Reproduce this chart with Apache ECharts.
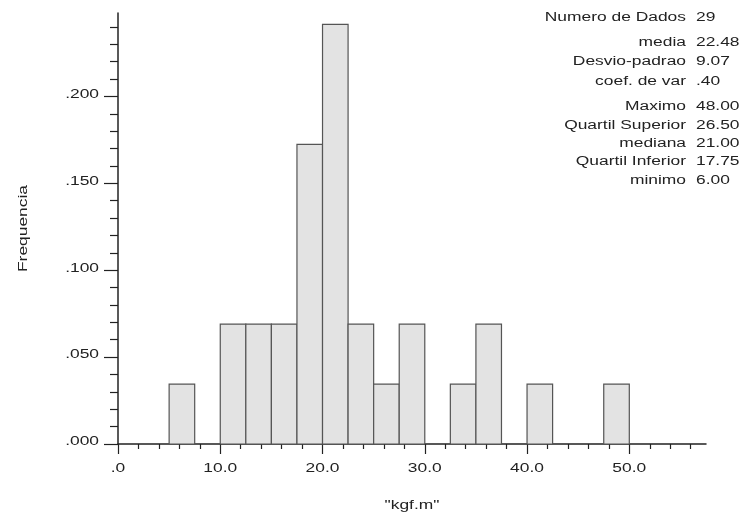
<!DOCTYPE html>
<html>
<head>
<meta charset="utf-8">
<script src="https://cdn.jsdelivr.net/npm/echarts@6/dist/echarts.min.js"></script>
<style>html,body{margin:0;padding:0;background:#fff;}#c{width:741px;height:519px;}</style>
</head>
<body>
<div id="c"></div>
<script>
// Histogram bins (start, end) and relative frequencies
var binStart = [5, 10, 12.5, 15, 17.5, 20, 22.5, 25, 27.5, 32.5, 35, 40, 47.5];
var binEnd   = [7.5, 12.5, 15, 17.5, 20, 22.5, 25, 27.5, 30, 35, 37.5, 42.5, 50];
var freq     = [0.0345, 0.069, 0.069, 0.069, 0.1724, 0.2414, 0.069, 0.0345, 0.069, 0.0345, 0.069, 0.0345, 0.0345];

// Axis ticks
var xMajorTicks = [0, 10, 20, 30, 40, 50];
var xTickLabels = ['.0', '10.0', '20.0', '30.0', '40.0', '50.0'];
var xMinorTicks = [2, 4, 6, 8, 12, 14, 16, 18, 22, 24, 26, 28, 32, 34, 36, 38, 42, 44, 46, 48, 52, 54, 56];
var yMajorTicks = [0, 0.05, 0.1, 0.15, 0.2];
var yTickLabels = ['.000', '.050', '.100', '.150', '.200'];
var yMinorTicks = [0.01, 0.02, 0.03, 0.04, 0.06, 0.07, 0.08, 0.09, 0.11, 0.12, 0.13, 0.14, 0.16, 0.17, 0.18, 0.19, 0.21, 0.22, 0.23, 0.24];
var xName = '"kgf.m"';
var yName = 'Frequencia';

// Summary statistics
var statNames  = ['Numero de Dados', 'media', 'Desvio-padrao', 'coef. de var', 'Maximo', 'Quartil Superior', 'mediana', 'Quartil Inferior', 'minimo'];
var statValues = ['29', '22.48', '9.07', '.40', '48.00', '26.50', '21.00', '17.75', '6.00'];
var statY      = [18, 43, 62, 82, 107, 126, 144, 162, 181];

var FONT = '"Liberation Sans", Arial, Helvetica, sans-serif';
var FS = 12;
var SX = 1.45;   // wide-set lettering of the original
var COLOR = '#222';
var chart = echarts.init(document.getElementById('c'), null, {renderer: 'canvas'});

var data = binStart.map(function (s, i) { return [s, binEnd[i], freq[i]]; });
var xMin = 0, xMax = 57.5, yMin = 0, yMax = 0.248;

function txt(x, y, text, align, extra) {
  var o = {type: 'text', x: x, y: y, scaleX: SX, scaleY: 1,
    style: {text: text, font: FS + 'px ' + FONT, fill: COLOR, textAlign: align, textVerticalAlign: 'middle'}};
  if (extra) for (var k in extra) o[k] = extra[k];
  return o;
}

chart.setOption({
  animation: false,
  grid: {left: 118, right: 35, top: 13, bottom: 75},
  xAxis: [{
    type: 'value', min: xMin, max: xMax,
    axisLine: {show: true, lineStyle: {color: COLOR, width: 1.5}},
    axisTick: {show: true, length: 10, lineStyle: {color: COLOR, width: 1.2}, customValues: xMajorTicks},
    axisLabel: {show: false},
    splitLine: {show: false}
  }, {
    type: 'value', min: xMin, max: xMax, position: 'bottom',
    axisLine: {show: false},
    axisTick: {show: true, length: 5, lineStyle: {color: COLOR, width: 1.2}, customValues: xMinorTicks},
    axisLabel: {show: false},
    splitLine: {show: false}
  }],
  yAxis: [{
    type: 'value', min: yMin, max: yMax,
    axisLine: {show: true, lineStyle: {color: COLOR, width: 1.5}},
    axisTick: {show: true, length: 14, lineStyle: {color: COLOR, width: 1.2}, customValues: yMajorTicks},
    axisLabel: {show: false},
    splitLine: {show: false}
  }, {
    type: 'value', min: yMin, max: yMax, position: 'left',
    axisLine: {show: false},
    axisTick: {show: true, length: 8, lineStyle: {color: COLOR, width: 1.2}, customValues: yMinorTicks},
    axisLabel: {show: false},
    splitLine: {show: false}
  }],
  series: [{
    type: 'custom',
    xAxisIndex: 0, yAxisIndex: 0,
    data: data,
    encode: {x: [0, 1], y: 2},
    renderItem: function (params, api) {
      var p0 = api.coord([api.value(0), 0]);
      var p1 = api.coord([api.value(1), api.value(2)]);
      return {
        type: 'rect',
        shape: {x: p0[0], y: p1[1], width: p1[0] - p0[0], height: p0[1] - p1[1]},
        style: {fill: '#e3e3e3', stroke: '#555', lineWidth: 1.2}
      };
    }
  }]
});

// Text placed through the axes' own scales
var graphics = [];
var x0 = chart.convertToPixel({xAxisIndex: 0}, xMin);
var x1 = chart.convertToPixel({xAxisIndex: 0}, xMax);
var y0 = chart.convertToPixel({yAxisIndex: 0}, yMin);
var y1 = chart.convertToPixel({yAxisIndex: 0}, yMax);
xMajorTicks.forEach(function (v, i) {
  graphics.push(txt(chart.convertToPixel({xAxisIndex: 0}, v), y0 + 25, xTickLabels[i], 'center'));
});
yMajorTicks.forEach(function (v, i) {
  graphics.push(txt(x0 - 19, chart.convertToPixel({yAxisIndex: 0}, v) - 2, yTickLabels[i], 'right'));
});
graphics.push(txt((x0 + x1) / 2, y0 + 62, xName, 'center'));
graphics.push(txt(x0 - 94, (y0 + y1) / 2, yName, 'center', {rotation: Math.PI / 2}));
statNames.forEach(function (n, i) {
  graphics.push(txt(686, statY[i], n, 'right'));
  graphics.push(txt(696, statY[i], statValues[i], 'left'));
});
chart.setOption({graphic: graphics});
</script>
</body>
</html>
